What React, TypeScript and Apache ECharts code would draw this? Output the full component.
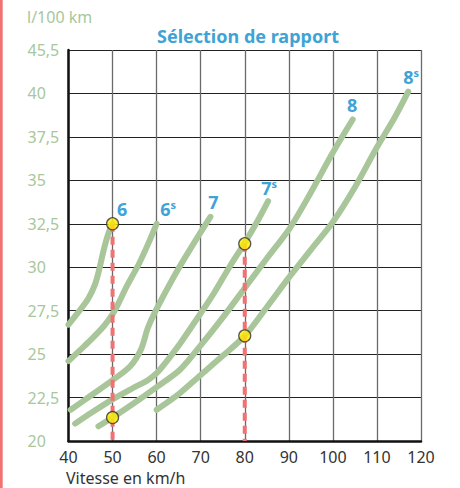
import React, { useEffect, useRef } from "react";
import * as echarts from "echarts";

// Axis ticks
const xMin = 40;
const xMax = 120;
const xStep = 10;
const yTickValues = [20, 22.5, 25, 27.5, 30, 32.5, 35, 37.5, 40, 42.5];
const yTickLabels = ["20", "22,5", "25", "27,5", "30", "32,5", "35", "37,5", "40", "45,5"];

// Consumption curves per gear (speed km/h, l/100 km)
const gear6 = [[40, 26.7], [42.5, 27.5], [44.5, 28.2], [46, 29], [47, 29.9], [48, 31], [49, 31.9], [50, 32.5]];
const gear6s = [[40, 24.6], [42.5, 25.2], [45, 25.8], [48, 26.6], [50, 27.3], [51.5, 28], [53, 28.8], [54.5, 29.5], [56, 30.2], [58, 31.3], [60, 32.5]];
const gear7 = [[40.5, 21.8], [45, 22.6], [50, 23.5], [54, 24.3], [56.5, 25.3], [58, 26.5], [60, 27.6], [64, 29.5], [68, 31.2], [72.2, 32.9]];
const gear7s = [[41.5, 21], [45, 21.6], [50, 22.4], [55, 23.1], [58, 23.5], [60, 23.9], [62, 24.5], [65.3, 25.6], [68, 26.6], [70.4, 27.5], [73, 28.5], [76.5, 30], [80, 31.4], [83, 32.7], [85.3, 33.8]];
const gear8 = [[46.8, 20.85], [50, 21.35], [55, 22.2], [60, 23.1], [65.3, 24.1], [70, 25.5], [75, 27.1], [80, 28.8], [85, 30.5], [90.2, 32.24], [95, 34.3], [100, 36.6], [104.5, 38.5]];
const gear8s = [[60, 21.8], [65, 22.7], [70, 23.8], [75, 24.9], [80, 26.05], [85, 27.7], [90, 29.4], [95, 31], [100, 32.6], [105, 34.6], [110, 36.9], [114, 38.6], [117.1, 40.1]];

const gearNames = ["6", "6s", "7", "7s", "8", "8s"];
const gearData = [gear6, gear6s, gear7, gear7s, gear8, gear8s];
const gearLabelOffsets = [[1.5, -14.5], [3.5, -14.5], [-5, -15], [-7, -13], [-8.5, -15], [-5, -15]];

// Highlighted operating points and their guide lines
const markerPoints = [[50, 32.5], [50, 21.35], [80, 31.35], [80, 26.05]];
const guideLines = [
  [[50, 32.5], [50, 20]],
  [[80, 31.35], [80, 20]],
];

const FONT = "'Noto Sans', 'DejaVu Sans', sans-serif";
const GREEN = "#a9c69a";
const BLUE = "#3ea3d6";
const LABEL_GREEN = "#a8c79a";
const RED = "#f07272";

function labelText(name: string) {
  if (name.length > 1) return `{a|${name[0]}}{b|${name.slice(1)}}`;
  return `{a|${name}}`;
}

export default function App() {
  const ref = useRef<HTMLDivElement>(null);

  useEffect(() => {
    if (!ref.current) return;
    const chart = echarts.init(ref.current, undefined, { renderer: "svg" });

    const curveSeries = gearData.map((d, i) => ({
      type: "line",
      name: gearNames[i],
      data: d,
      smooth: 0.3,
      showSymbol: false,
      symbol: "none",
      z: 3,
      lineStyle: { color: GREEN, width: 6, cap: "round", join: "round" },
      endLabel: {
        show: true,
        formatter: labelText(gearNames[i]),
        align: "center",
        verticalAlign: "middle",
        offset: gearLabelOffsets[i],
        rich: {
          a: { fontSize: 18, fontWeight: "bold", color: BLUE, fontFamily: FONT, lineHeight: 20 },
          b: { fontSize: 11, fontWeight: "bold", color: BLUE, fontFamily: FONT, verticalAlign: "top", lineHeight: 20 },
        },
      },
      silent: true,
    }));

    const guideSeries = guideLines.map((g) => ({
      type: "line",
      data: g,
      showSymbol: false,
      symbol: "none",
      z: 4,
      lineStyle: { color: RED, width: 4, type: [8, 5] },
      silent: true,
    }));

    chart.setOption({
      animation: false,
      backgroundColor: "#ffffff",
      grid: { left: 68.5, right: 39, top: 50, bottom: 47, containLabel: false },
      title: {
        text: "Sélection de rapport",
        left: 152,
        top: 22,
        textStyle: { color: BLUE, fontSize: 18, fontWeight: "bold", fontFamily: FONT },
      },
      xAxis: {
        type: "value",
        min: xMin,
        max: xMax,
        interval: xStep,
        axisLine: { show: true, lineStyle: { color: "#111", width: 2.5 } },
        axisTick: { show: false },
        axisLabel: { color: "#333", fontSize: 16, fontFamily: FONT, margin: 8, lineHeight: 16 },
        splitLine: { show: true, lineStyle: { color: "#6a6a6a", width: 1.3 } },
      },
      yAxis: {
        type: "value",
        min: 20,
        max: 42.5,
        interval: 2.5,
        axisLine: { show: true, lineStyle: { color: "#111", width: 2.5 } },
        axisTick: { show: false },
        axisLabel: {
          color: LABEL_GREEN,
          fontSize: 16,
          fontFamily: FONT,
          align: "left",
          margin: 41,
          formatter: (v: number) => {
            const i = yTickValues.findIndex((t) => Math.abs(t - v) < 1e-6);
            return i >= 0 ? yTickLabels[i] : "";
          },
        },
        splitLine: { show: true, lineStyle: { color: "#222", width: 1.2 } },
      },
      graphic: [
        { type: "rect", left: 0, top: 0, shape: { width: 2.7, height: 488 }, style: { fill: RED } },
        {
          type: "text",
          left: 27,
          top: 9,
          style: { text: "l/100 km", fill: LABEL_GREEN, fontSize: 16, fontFamily: FONT },
        },
        {
          type: "text",
          left: 66,
          top: 469.5,
          style: { text: "Vitesse en km/h", fill: "#333", fontSize: 16, fontFamily: FONT, lineHeight: 16 },
        },
      ],
      series: [
        ...curveSeries,
        ...guideSeries,
        {
          type: "scatter",
          data: markerPoints,
          symbol: "circle",
          symbolSize: 12,
          z: 5,
          itemStyle: { color: "#ffec00", borderColor: "#333", borderWidth: 1.3 },
          silent: true,
        },
      ],
    });

    return () => chart.dispose();
  }, []);

  return <div ref={ref} style={{ position: "fixed", left: 0, top: 0, width: 460, height: 488 }} />;
}
